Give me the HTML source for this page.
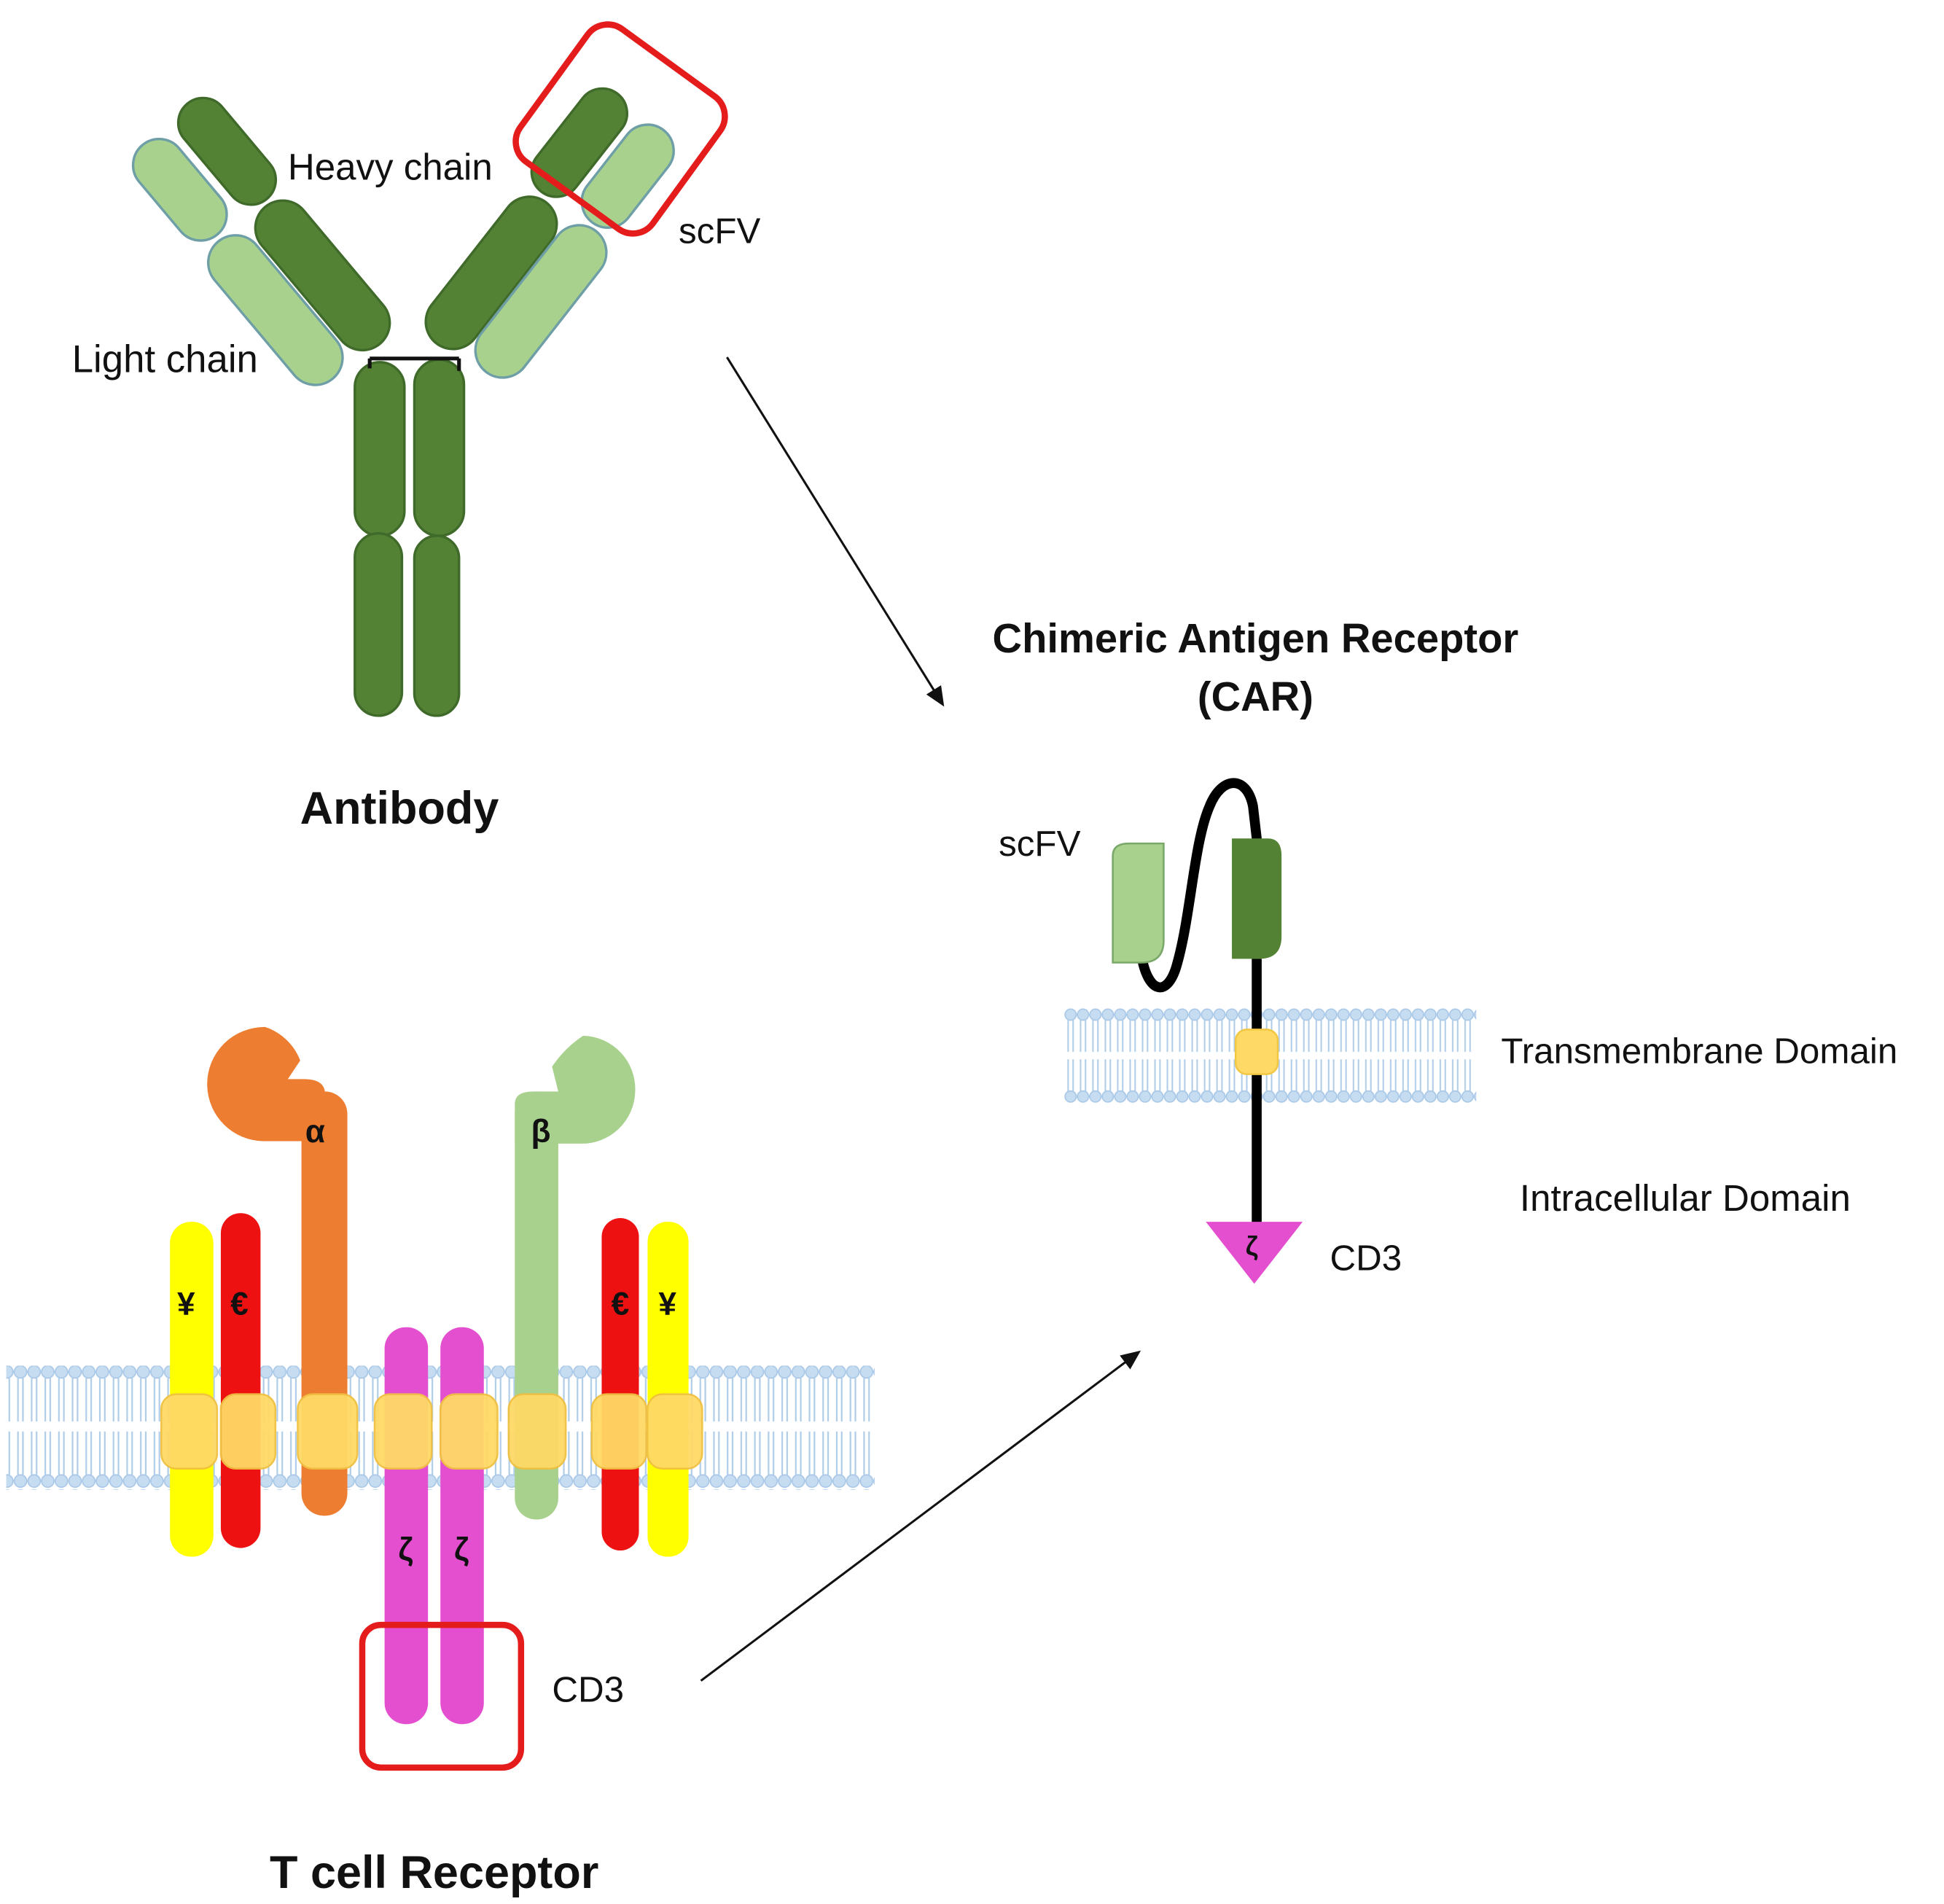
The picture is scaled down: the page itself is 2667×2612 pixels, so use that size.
<!DOCTYPE html>
<html><head><meta charset="utf-8"><style>
html,body{margin:0;padding:0;background:#fff}
svg{display:block}
text{font-family:"Liberation Sans","DejaVu Sans",sans-serif;fill:#111}
</style></head><body>
<svg width="2667" height="2612" viewBox="0 0 1567 1535" preserveAspectRatio="none" xmlns="http://www.w3.org/2000/svg">
<defs>
<pattern id="mem" x="0" y="0" width="11" height="100" patternUnits="userSpaceOnUse">
<circle cx="5.5" cy="6" r="5" fill="#c6dcf0" stroke="#a9c8e8" stroke-width="1"/>
<circle cx="5.5" cy="94" r="5" fill="#c6dcf0" stroke="#a9c8e8" stroke-width="1"/>
<path d="M3.5 11 V46 M7.5 11 V46 M3.5 54 V89 M7.5 54 V89" stroke="#b0cde8" stroke-width="1.3" fill="none"/>
</pattern>
<pattern id="mem2" x="858" y="812" width="10" height="78" patternUnits="userSpaceOnUse">
<circle cx="5" cy="6" r="4.5" fill="#c6dcf0" stroke="#a9c8e8" stroke-width="1"/>
<circle cx="5" cy="72" r="4.5" fill="#c6dcf0" stroke="#a9c8e8" stroke-width="1"/>
<path d="M3 10 V36 M7 10 V36 M3 42 V68 M7 42 V68" stroke="#b0cde8" stroke-width="1.2" fill="none"/>
</pattern>
<marker id="ah" markerWidth="16" markerHeight="14" refX="14" refY="7" orient="auto" markerUnits="userSpaceOnUse">
<path d="M0 0 L16 7 L0 14 z" fill="#111"/>
</marker>
</defs>

<!-- Antibody -->
<g stroke-width="2">
<rect x="-47" y="-21" width="94" height="42" rx="21" transform="translate(145,153) rotate(50)" fill="#a9d18e" stroke="#6e9ea6"/>
<rect x="-50" y="-20" width="100" height="40" rx="20" transform="translate(183,122) rotate(50)" fill="#548235" stroke="#3f6a2a"/>
<rect x="-72" y="-22" width="144" height="44" rx="22" transform="translate(260,222) rotate(50)" fill="#548235" stroke="#3f6a2a"/>
<rect x="-72" y="-22" width="144" height="44" rx="22" transform="translate(222,250) rotate(50)" fill="#a9d18e" stroke="#6e9ea6"/>
<rect x="-50" y="-20" width="100" height="40" rx="20" transform="translate(467,115) rotate(-52)" fill="#548235" stroke="#3f6a2a"/>
<rect x="-47" y="-21" width="94" height="42" rx="21" transform="translate(506,142) rotate(-52)" fill="#a9d18e" stroke="#6e9ea6"/>
<rect x="-72" y="-22" width="144" height="44" rx="22" transform="translate(396,220) rotate(-52)" fill="#548235" stroke="#3f6a2a"/>
<rect x="-72" y="-22" width="144" height="44" rx="22" transform="translate(436,243) rotate(-52)" fill="#a9d18e" stroke="#6e9ea6"/>
<rect x="286" y="292" width="40" height="140" rx="20" fill="#548235" stroke="#3f6a2a"/>
<rect x="286" y="430" width="38" height="147" rx="19" fill="#548235" stroke="#3f6a2a"/>
<rect x="334" y="290" width="40" height="142" rx="20" fill="#548235" stroke="#3f6a2a"/>
<rect x="334" y="432" width="36" height="145" rx="18" fill="#548235" stroke="#3f6a2a"/>
</g>
<path d="M298 289 H370 M298 289 V297 M370 289 V299" stroke="#111" stroke-width="3" fill="none"/>
<rect x="-66" y="-66" width="132" height="132" rx="20" transform="translate(500,104) rotate(36)" fill="none" stroke="#e41c1c" stroke-width="5"/>
<text x="232" y="145" font-size="30">Heavy chain</text>
<text x="58" y="300" font-size="31">Light chain</text>
<text x="547" y="196" font-size="29">scFV</text>
<text x="322" y="664" font-size="37" font-weight="bold" text-anchor="middle">Antibody</text>

<!-- Arrows -->
<line x1="586" y1="288" x2="760" y2="568" stroke="#111" stroke-width="1.8" marker-end="url(#ah)"/>
<line x1="565" y1="1355" x2="918" y2="1090" stroke="#111" stroke-width="1.8" marker-end="url(#ah)"/>

<!-- CAR -->
<text x="1012" y="526" font-size="33" font-weight="bold" text-anchor="middle">Chimeric Antigen Receptor</text>
<text x="1012" y="573" font-size="33" font-weight="bold" text-anchor="middle">(CAR)</text>
<text x="805" y="690" font-size="29">scFV</text>
<rect x="858" y="812" width="332" height="78" fill="url(#mem2)"/>
<path d="M920 770 C925 800 940 805 948 780 C960 740 962 680 975 650 C985 625 1005 625 1010 650 L1013 676" stroke="#000" stroke-width="8" fill="none" stroke-linecap="round"/>
<path d="M897 690 Q897 680 910 680 L938 680 L938 758 Q938 776 920 776 L897 776 Z" fill="#a9d18e" stroke="#7aa86a" stroke-width="1.5"/>
<path d="M993 676 L1022 676 Q1033 676 1033 690 L1033 755 Q1033 773 1015 773 L993 773 Z" fill="#548235"/>
<line x1="1013" y1="773" x2="1013" y2="988" stroke="#000" stroke-width="8"/>
<rect x="996" y="830" width="34" height="36" rx="9" fill="#ffd966" stroke="#f2c744" stroke-width="1.5"/>
<path d="M972 985 L1050 985 L1011 1035 Z" fill="#e44fd0"/>
<text x="1004" y="1012" font-size="22" font-weight="bold" fill="#333">ζ</text>
<text x="1210" y="857" font-size="29">Transmembrane Domain</text>
<text x="1225" y="976" font-size="30">Intracellular Domain</text>
<text x="1072" y="1024" font-size="29">CD3</text>

<!-- TCR -->
<rect x="5" y="1101" width="700" height="100" fill="url(#mem)"/>
<rect x="243" y="880" width="37" height="342" rx="18" fill="#ed7d31"/>
<path d="M214 828 A46 46 0 0 0 167 875 A46 46 0 0 0 212 920 L262 920 L262 882 Q262 870 245 870 L232 870 L242 855 A46 46 0 0 0 214 828 Z" fill="#ed7d31"/>
<rect x="415" y="880" width="35" height="345" rx="17" fill="#a9d18e"/>
<path d="M470 835 A43 43 0 0 1 512 880 A43 43 0 0 1 468 922 L415 922 L415 890 Q415 880 430 880 L450 880 L445 860 Q455 845 470 835 Z" fill="#a9d18e"/>
<rect x="137" y="985" width="35" height="270" rx="17" fill="#ffff00"/>
<rect x="178" y="978" width="32" height="270" rx="16" fill="#ee1111"/>
<rect x="485" y="982" width="30" height="268" rx="15" fill="#ee1111"/>
<rect x="522" y="985" width="33" height="270" rx="16" fill="#ffff00"/>
<rect x="310" y="1070" width="35" height="320" rx="17" fill="#e44fd0"/>
<rect x="355" y="1070" width="35" height="320" rx="17" fill="#e44fd0"/>
<g fill="#ffd966" stroke="#f0c040" stroke-width="1.5" opacity="0.95">
<rect x="130" y="1124" width="45" height="60" rx="12"/>
<rect x="178" y="1124" width="44" height="60" rx="12"/>
<rect x="240" y="1124" width="48" height="60" rx="12"/>
<rect x="302" y="1124" width="46" height="60" rx="12"/>
<rect x="355" y="1124" width="46" height="60" rx="12"/>
<rect x="410" y="1124" width="46" height="60" rx="12"/>
<rect x="477" y="1124" width="44" height="60" rx="12"/>
<rect x="522" y="1124" width="44" height="60" rx="12"/>
</g>
<text x="150" y="1060" font-size="26" font-weight="bold" text-anchor="middle">¥</text>
<text x="193" y="1060" font-size="26" font-weight="bold" text-anchor="middle">€</text>
<text x="500" y="1060" font-size="26" font-weight="bold" text-anchor="middle">€</text>
<text x="538" y="1060" font-size="26" font-weight="bold" text-anchor="middle">¥</text>
<text x="254" y="921" font-size="26" font-weight="bold" text-anchor="middle">α</text>
<text x="436" y="921" font-size="26" font-weight="bold" text-anchor="middle">β</text>
<text x="327" y="1258" font-size="26" font-weight="bold" text-anchor="middle" fill="#333">ζ</text>
<text x="372" y="1258" font-size="26" font-weight="bold" text-anchor="middle" fill="#333">ζ</text>
<rect x="292" y="1310" width="128" height="115" rx="15" fill="none" stroke="#e41c1c" stroke-width="5"/>
<text x="445" y="1372" font-size="29">CD3</text>
<text x="350" y="1522" font-size="37" font-weight="bold" text-anchor="middle">T cell Receptor</text>
</svg>
</body></html>
